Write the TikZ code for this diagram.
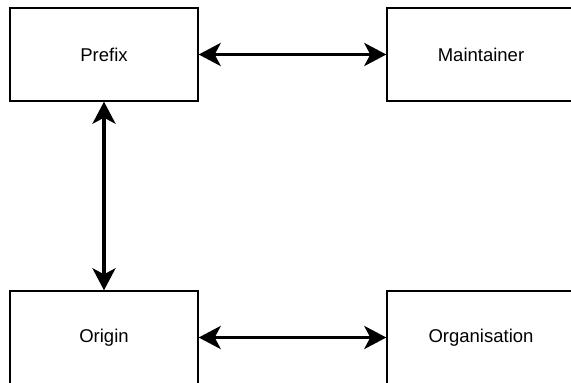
\documentclass[tikz,border=0pt]{standalone}
\usepackage{fontspec}
\setmainfont{Liberation Sans}
\usetikzlibrary{arrows.meta}
\begin{document}
\begin{tikzpicture}[x=1pt,y=-1pt,
  box/.style={draw=black,line width=1.4pt,fill=white,minimum width=188pt,minimum height=93pt,inner sep=0pt,
    font=\fontsize{18.5}{22}\selectfont},
  link/.style={line width=3.6pt,{Stealth[length=22pt,width=23pt,inset=6pt]}-{Stealth[length=22pt,width=23pt,inset=6pt]}}]
\useasboundingbox (0,0) rectangle (571,383);
\clip (0,0) rectangle (571,383);
\node[box] (prefix) at (104,54.5) {Prefix};
\node[box] (maint) at (481,54.5) {Maintainer};
\node[box] (origin) at (104,337.5) {Origin};
\node[box] (org) at (481,337.5) {Organisation};
\draw[link] (prefix.east) -- (maint.west);
\draw[link] (prefix.south) -- (origin.north);
\draw[link] (origin.east) -- (org.west);
\end{tikzpicture}
\end{document}
